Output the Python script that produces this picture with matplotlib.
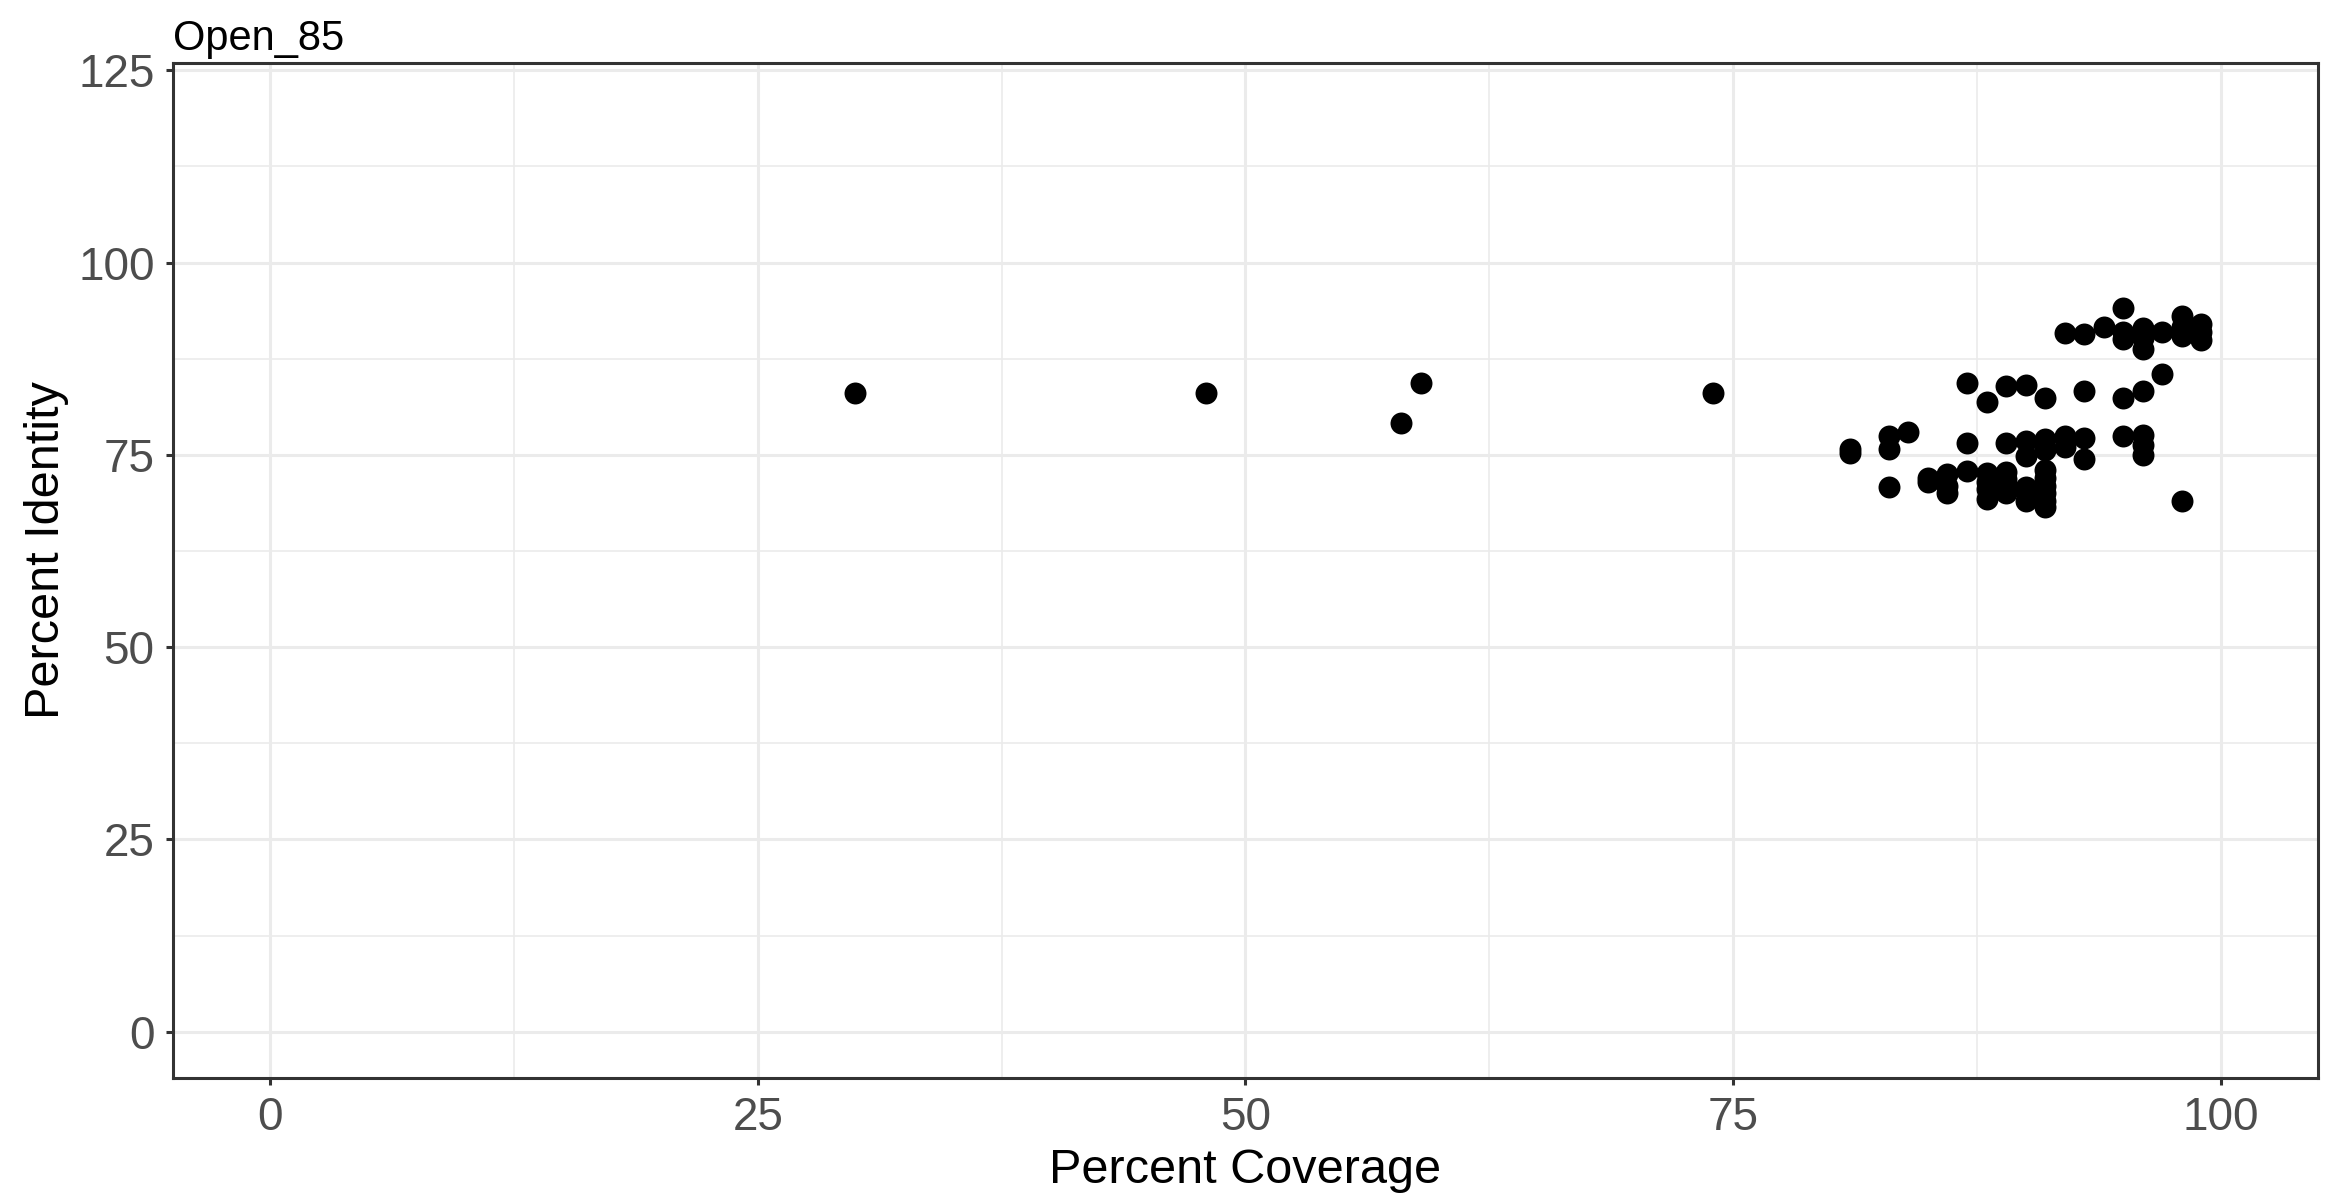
import matplotlib
matplotlib.use("Agg")
import matplotlib.pyplot as plt

plt.rcParams['font.family'] = ['Liberation Sans', 'DejaVu Sans']

# Percent coverage / percent identity of hits
coverage = [30, 48, 58, 59, 74,
            81, 81,
            83, 83, 83,
            84,
            85, 85,
            86, 86, 86,
            87, 87, 87,
            88, 88, 88, 88, 88,
            89, 89, 89, 89, 89, 89,
            90, 90, 90, 90, 90, 90,
            91, 91, 91, 91, 91, 91, 91, 91, 91,
            92, 92, 92,
            93, 93, 93, 93,
            94,
            95, 95, 95, 95, 95,
            96, 96, 96, 96, 96, 96, 96,
            97, 97,
            98, 98, 98, 98,
            99, 99, 99]
identity = [83.0, 83.0, 79.1, 84.3, 83.0,
            75.8, 75.2,
            77.4, 75.8, 70.8,
            78.0,
            72.0, 71.5,
            72.5, 71.0, 70.0,
            84.4, 76.5, 72.9,
            81.9, 72.6, 71.5, 70.5, 69.3,
            83.9, 76.5, 72.8, 71.8, 71.2, 70.0,
            84.1, 76.8, 74.8, 70.8, 70.2, 69.0,
            82.4, 77.1, 75.6, 73.0, 72.0, 71.0, 70.0, 69.0, 68.2,
            90.8, 77.4, 76.0,
            90.7, 83.3, 77.2, 74.5,
            91.6,
            94.1, 91.0, 90.0, 82.4, 77.4,
            91.5, 90.2, 88.8, 83.3, 77.6, 76.3, 75.0,
            91.0, 85.5,
            93.1, 91.6, 90.4, 69.0,
            92.0, 91.0, 89.9]

x_ticks = [0, 25, 50, 75, 100]
y_ticks = [0, 25, 50, 75, 100, 125]

fig, ax = plt.subplots(figsize=(23.33, 12.03), dpi=100)
fig.subplots_adjust(left=0.074, right=0.9936, bottom=0.104, top=0.948)

ax.scatter(coverage, identity, s=250, color='black', linewidths=0, zorder=3)

ax.set_xlim(-5, 105)
ax.set_ylim(-6, 126)
ax.set_xticks(x_ticks)
ax.set_yticks(y_ticks)
ax.set_xticks([12.5, 37.5, 62.5, 87.5], minor=True)
ax.set_yticks([12.5, 37.5, 62.5, 87.5, 112.5], minor=True)

# theme_bw look
ax.grid(True, which='major', color='#EBEBEB', linewidth=2.2, zorder=0)
ax.grid(True, which='minor', color='#EBEBEB', linewidth=1.2, zorder=0)
ax.set_axisbelow(True)
for sp in ax.spines.values():
    sp.set_color('#333333')
    sp.set_linewidth(2.2)

ax.tick_params(which='major', length=5, width=2.2, color='#333333',
               labelsize=33, labelcolor='#4D4D4D', pad=8)
ax.tick_params(which='minor', length=0)

ax.set_xlabel('Percent Coverage', fontsize=35, labelpad=6)
ax.set_ylabel('Percent Identity', fontsize=35)
ax.yaxis.set_label_coords(-0.0485, 0.5197)
ax.set_title('Open_85', fontsize=30, loc='left', pad=9)

plt.savefig('out.png', dpi=100)
